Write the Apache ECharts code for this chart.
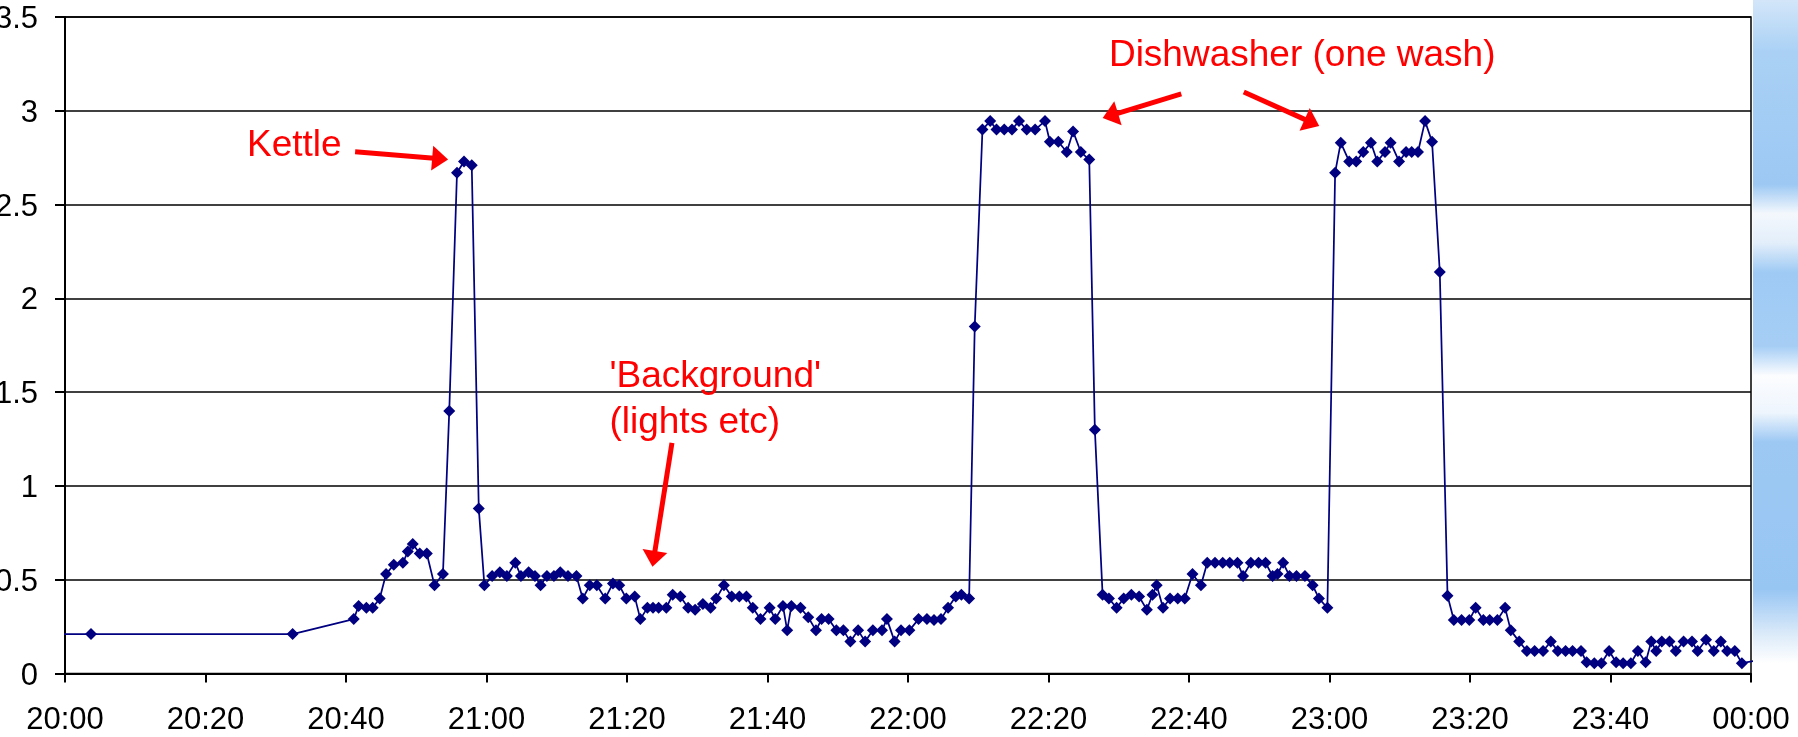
<!DOCTYPE html>
<html>
<head>
<meta charset="utf-8">
<title>Household electricity, one evening</title>
<script src="https://cdn.jsdelivr.net/npm/echarts@6/dist/echarts.min.js"></script>
<style>
    html, body { margin: 0; padding: 0; background: #fff; }
    #chart { width: 1798px; height: 737px; }
</style>
</head>
<body>
<div id="chart"></div>
<script>
// reading time, in minutes after 20:00
const minutes = [
    -3, 3.7, 32.4, 41.1, 41.8, 42.9, 43.8, 44.8, 45.7, 46.8, 48.1, 48.8, 49.5, 50.5, 51.5, 52.6, 53.8,
    54.7, 55.8, 56.8, 57.9, 58.9, 59.7, 60.8, 61.9, 62.9, 64.1, 64.9, 66.0, 66.9, 67.7, 68.6, 69.6,
    70.5, 71.6, 72.8, 73.7, 74.7, 75.7, 76.9, 78.0, 78.9, 79.9, 81.1, 81.9, 82.9, 83.7, 84.5, 85.6,
    86.5, 87.6, 88.7, 89.7, 90.8, 91.9, 92.7, 93.8, 94.9, 96.0, 97.0, 97.9, 99.0, 100.3, 101.1, 102.2,
    102.8, 103.4, 104.7, 105.8, 106.9, 107.7, 108.7, 109.8, 110.8, 111.8, 112.9, 113.9, 115.0, 116.3,
    117.0, 118.1, 119.0, 120.2, 121.5, 122.7, 123.7, 124.7, 125.7, 126.8, 127.6, 128.7, 129.5, 130.6,
    131.7, 132.6, 133.7, 134.8, 135.8, 136.9, 138.1, 139.5, 140.2, 141.4, 142.6, 143.5, 144.6, 145.8,
    146.6, 147.7, 148.6, 149.7, 150.7, 151.8, 152.9, 154.0, 154.8, 155.4, 156.3, 157.3, 158.4, 159.4,
    160.5, 161.7, 162.6, 163.7, 164.8, 165.8, 166.9, 167.7, 168.8, 169.9, 170.9, 171.9, 172.6, 173.4,
    174.3, 175.3, 176.5, 177.6, 178.5, 179.7, 180.8, 181.6, 182.8, 183.8, 184.8, 185.9, 186.8, 187.9,
    188.7, 189.9, 190.9, 191.7, 192.6, 193.6, 194.6, 195.7, 196.8, 197.7, 198.8, 199.9, 200.8, 201.9,
    202.8, 203.9, 205.0, 205.8, 207.0, 208.1, 209.2, 210.4, 211.5, 212.5, 213.6, 214.6, 215.8, 216.6,
    217.7, 218.7, 219.8, 220.8, 221.8, 222.9, 223.9, 225.0, 225.8, 226.5, 227.3, 228.4, 229.3, 230.4,
    231.6, 232.4, 233.6, 234.7, 235.7, 236.6, 237.7, 238.7, 241.5
]
// power in kW
const kw = [
    0.21, 0.21, 0.21, 0.29, 0.36, 0.35, 0.35, 0.40, 0.53, 0.58, 0.59, 0.65, 0.69, 0.64, 0.64, 0.47, 0.53,
    1.40, 2.67, 2.73, 2.71, 0.88, 0.47, 0.52, 0.54, 0.52, 0.59, 0.52, 0.54, 0.52, 0.47, 0.52, 0.52,
    0.54, 0.52, 0.52, 0.40, 0.47, 0.47, 0.40, 0.48, 0.47, 0.40, 0.41, 0.29, 0.35, 0.35, 0.35, 0.35,
    0.42, 0.41, 0.35, 0.34, 0.37, 0.35, 0.40, 0.47, 0.41, 0.41, 0.41, 0.35, 0.29, 0.35, 0.29, 0.36,
    0.23, 0.36, 0.35, 0.30, 0.23, 0.29, 0.29, 0.23, 0.23, 0.17, 0.23, 0.17, 0.23, 0.23,
    0.29, 0.17, 0.23, 0.23, 0.29, 0.29, 0.285, 0.29, 0.35, 0.41, 0.42, 0.40, 1.85, 2.90,
    2.945, 2.90, 2.90, 2.90, 2.945, 2.90, 2.90, 2.945, 2.835, 2.835, 2.78, 2.89, 2.78, 2.74,
    1.30, 0.42, 0.40, 0.35, 0.40, 0.42, 0.41, 0.34, 0.42, 0.47, 0.35, 0.40, 0.40, 0.40,
    0.53, 0.47, 0.59, 0.59, 0.59, 0.59, 0.59, 0.52, 0.59, 0.59, 0.59, 0.52, 0.53, 0.59,
    0.52, 0.52, 0.52, 0.47, 0.40, 0.35, 2.67, 2.83, 2.73, 2.73, 2.78, 2.83, 2.73, 2.78,
    2.83, 2.73, 2.78, 2.78, 2.78, 2.945, 2.835, 2.14, 0.415, 0.285, 0.285, 0.285, 0.35, 0.285,
    0.285, 0.285, 0.35, 0.23, 0.17, 0.12, 0.12, 0.12, 0.17, 0.12, 0.12, 0.12, 0.12, 0.06,
    0.055, 0.055, 0.12, 0.06, 0.055, 0.055, 0.12, 0.06, 0.17, 0.12, 0.17, 0.17, 0.12, 0.17,
    0.17, 0.12, 0.18, 0.12, 0.17, 0.12, 0.12, 0.055, 0.075
]
const timeLabels = ['20:00', '20:20', '20:40', '21:00', '21:20', '21:40', '22:00',
    '22:20', '22:40', '23:00', '23:20', '23:40', '00:00']

// annotation texts, anchored at [minute, kW] (left edge, middle of line)
const notes = [
    ['Kettle', 25.9, 2.812],
    ['Dishwasher (one wash)', 148.6, 3.292],
    ["'Background'", 77.5, 1.583],
    ['(lights etc)', 77.5, 1.338]
]
// arrows: [from, to] in [minute, kW]
const arrows = [
    [[41.3, 2.782], [53.4, 2.744]],
    [[158.9, 3.090], [148.8, 2.974]],
    [[167.8, 3.100], [177.5, 2.937]],
    [[86.4, 1.229], [83.8, 0.611]]
]

const FONT = '"Liberation Sans", Arial, sans-serif'
const chart = echarts.init(document.getElementById('chart'))

// blurred sky of the slide behind the chart, right edge
const sky = {
    id: 'sky', type: 'rect', right: 0, top: 0, z: -10, silent: true,
    shape: { width: 45, height: 737 },
    style: {
        fill: new echarts.graphic.LinearGradient(0, 0, 0, 1, [
            { offset: 0, color: '#d3e6f9' },
            { offset: 0.07, color: '#aad1f5' },
            { offset: 0.25, color: '#9cc8f3' },
            { offset: 0.29, color: '#f4f8fd' },
            { offset: 0.33, color: '#e2eefa' },
            { offset: 0.37, color: '#9ecaf4' },
            { offset: 0.47, color: '#a6cef5' },
            { offset: 0.51, color: '#fcfdff' },
            { offset: 0.56, color: '#eef5fd' },
            { offset: 0.60, color: '#9cc8f3' },
            { offset: 0.80, color: '#98c6f3' },
            { offset: 0.86, color: '#dbeaf9' },
            { offset: 0.90, color: '#ffffff' },
            { offset: 1, color: '#ffffff' }
        ])
    }
}

chart.setOption({
    animation: false,
    backgroundColor: '#fff',
    grid: {
        left: 65, right: 47, top: 17, bottom: 63.5,
        show: true, borderColor: '#000', borderWidth: 1.5,
        containLabel: false, outerBoundsMode: 'none'
    },
    xAxis: {
        type: 'value', min: 0, max: 240, interval: 20,
        axisLine: { show: true, lineStyle: { color: '#000', width: 2 } },
        axisTick: { show: true, length: 9, lineStyle: { color: '#000', width: 2 } },
        axisLabel: {
            color: '#000', fontSize: 31, fontFamily: FONT, margin: 31,
            formatter: v => timeLabels[Math.round(v / 20)]
        },
        splitLine: { show: false }
    },
    yAxis: {
        type: 'value', min: 0, max: 3.5, interval: 0.5,
        axisLine: { show: true, lineStyle: { color: '#000', width: 2 } },
        axisTick: { show: true, length: 10, lineStyle: { color: '#000', width: 2 } },
        axisLabel: {
            color: '#000', fontSize: 31, fontFamily: FONT, margin: 27,
            verticalAlign: 'top', lineHeight: 31, padding: [-13, 0, 0, 0]
        },
        splitLine: { show: true, lineStyle: { color: '#000', width: 1.5 } }
    },
    graphic: [sky],
    series: [{
        type: 'line',
        data: minutes.map((m, i) => [m, kw[i]]),
        symbol: 'diamond',
        symbolSize: 12,
        showAllSymbol: true,
        itemStyle: { color: '#000080' },
        lineStyle: { color: '#000080', width: 1.75 },
        emphasis: { disabled: true },
        markLine: {
            silent: true,
            animation: false,
            symbol: ['none', 'triangle'],
            symbolSize: [25, 16],
            label: { show: false },
            lineStyle: { color: '#ff0000', width: 5, type: 'solid' },
            emphasis: { disabled: true },
            data: arrows.map(a => [{ coord: a[0] }, { coord: a[1] }])
        }
    }]
})

// place the annotation texts through the axes
const texts = notes.map(([text, m, v], i) => {
    const [x, y] = chart.convertToPixel({ gridIndex: 0 }, [m, v])
    return {
        id: 'note' + i, type: 'text', x: x, y: y, silent: true, z: 10,
        style: {
            text: text, fill: '#ff0000', fontSize: 37, fontFamily: FONT,
            align: 'left', verticalAlign: 'middle'
        }
    }
})
chart.setOption({ graphic: [sky].concat(texts) })
</script>
</body>
</html>
